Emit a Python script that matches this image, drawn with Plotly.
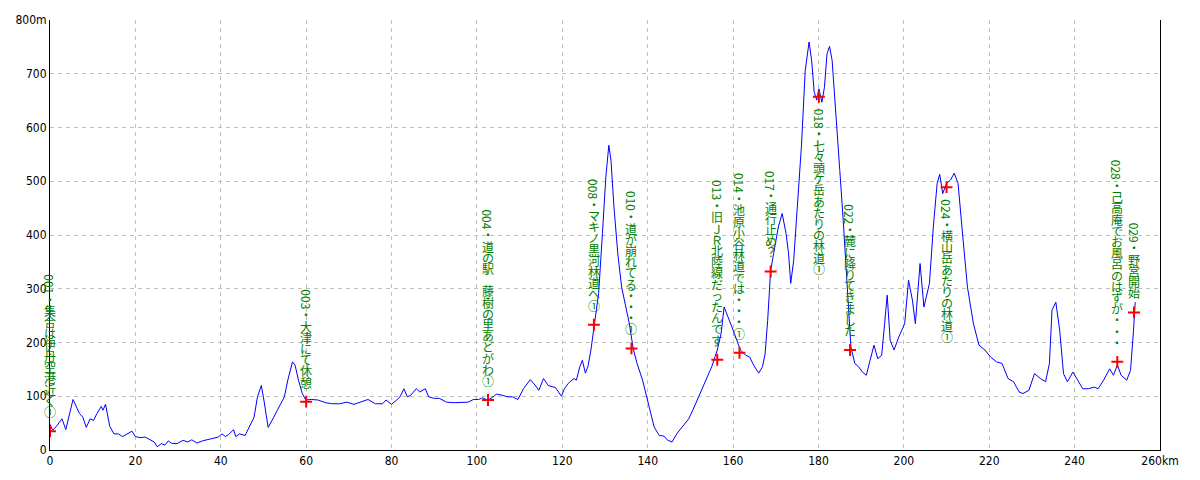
import plotly.graph_objects as go

# ---------------- data ----------------
dist_km = [0, 0.6, 1.4, 2.8, 3.7, 5.4, 6.9, 7.7, 8.5, 9.4, 10.2, 11.0, 12.0, 12.4, 13.0, 14.0, 15.0, 16.0, 17.0, 18.1,
           19.2, 20.0, 21.1, 22.3, 23.6, 24.4, 25.1, 26.1, 26.9, 27.7, 28.6, 29.8, 31.1, 32.3, 33.2, 34.4, 35.7, 36.9,
           38.2, 39.4, 40.3, 41.1, 41.9, 43.0, 43.5, 44.4, 45.7, 46.5, 47.8, 48.6, 49.5, 50.1, 51.1, 52.4, 53.6, 54.9,
           55.7, 56.8, 57.4, 58.2, 59.1, 59.9, 61.2, 62.8, 64.5, 66.2, 67.8, 69.5, 71.2, 72.8, 74.5, 76.2, 77.9, 78.7,
           80.0, 81.2, 82.0, 82.9, 83.7, 84.5, 85.8, 86.6, 87.9, 88.7, 90.0, 91.2, 92.9, 94.6, 96.2, 97.9, 99.2, 100.4,
           101.3, 102.5, 103.3, 104.6, 105.9, 107.1, 108.3, 109.6, 110.9, 112.5, 113.8, 114.5, 115.6, 116.7, 118.4,
           119.8, 120.5, 121.4, 122.7, 123.3, 124.1, 124.7, 125.4, 126.0, 126.7, 127.6, 128.5, 129.4, 130.2, 130.9,
           131.4, 132.1, 133.0, 133.9, 134.8, 135.7, 136.6, 137.5, 138.8, 139.7, 140.6, 141.5, 142.7, 143.8, 144.7,
           145.7, 146.9, 148.2, 149.6, 150.9, 152.3, 153.6, 155.0, 156.3, 157.2, 157.9, 159.0, 160.3, 161.7, 163.0,
           163.9, 164.8, 166.0, 166.9, 167.5, 168.1, 168.8, 169.7, 170.6, 171.5, 172.4, 173.0, 173.5, 174.2, 175.1,
           176.0, 176.9, 177.8, 178.4, 179.0, 179.6, 180.1, 180.8, 181.4, 182.0, 182.6, 183.2, 184.1, 185.0, 185.8,
           186.7, 187.6, 188.5, 189.4, 190.3, 191.2, 192.1, 193.0, 193.9, 194.8, 195.5, 196.1, 196.8, 197.7, 198.8,
           200.2, 201.1, 202.0, 202.7, 203.8, 204.7, 206.0, 206.9, 207.8, 208.4, 209.1, 210.0, 210.9, 211.8, 212.7,
           213.6, 214.9, 216.3, 217.6, 219.0, 220.3, 221.7, 223.0, 224.4, 225.7, 227.0, 227.9, 229.3, 230.6, 232.0,
           233.2, 234.1, 234.7, 235.6, 236.5, 237.4, 238.3, 239.6, 241.0, 241.9, 243.2, 244.6, 245.5, 246.8, 248.2,
           249.1, 250.0, 250.9, 252.2, 253.1, 253.8, 254.2]

elev_m = [48, 37, 43, 58, 38, 94, 68, 61, 42, 58, 55, 68, 81, 74, 85, 44, 30, 30, 25, 30,
          35, 25, 23, 24, 18, 15, 6, 12, 9, 17, 12, 12, 18, 15, 19, 13, 17, 19,
          21, 24, 30, 25, 29, 38, 25, 30, 27, 40, 61, 99, 120, 93, 42, 61, 80, 99,
          130, 164, 158, 130, 105, 93, 94, 93, 88, 86, 86, 89, 85, 89, 94, 86, 86, 93,
          85, 93, 99, 114, 99, 102, 114, 108, 114, 99, 96, 96, 89, 88, 89, 89, 94, 94,
          97, 93, 96, 104, 102, 99, 99, 94, 114, 131, 119, 111, 133, 120, 116,
          100, 114, 124, 133, 130, 155, 167, 143, 155, 186, 235, 291, 403, 508, 567,
          539, 452, 365, 303, 272, 235, 189, 161, 130, 99, 68, 43, 27, 26, 18,
          15, 31, 43, 58, 80, 105, 130, 155, 186, 217, 266, 244, 217, 186, 176,
          173, 158, 143, 155, 179, 241, 334, 378, 415, 440, 403, 365, 310, 353, 452,
          564, 706, 759, 725, 666, 651, 672, 647, 675, 737, 751, 725, 613, 520, 427,
          303, 192, 161, 155, 145, 139, 167, 195, 170, 176, 235, 288, 204, 186, 210,
          235, 316, 279, 235, 347, 266, 310, 415, 496, 513, 477, 496, 502, 515, 496,
          415, 303, 235, 195, 186, 173, 164, 161, 133, 127, 108, 105, 111, 142, 133,
          127, 161, 260, 275, 223, 142, 127, 145, 127, 114, 114, 117, 114, 130, 151,
          139, 158, 139, 130, 148, 223, 275]

wp_km = [0, 60.0, 102.6, 127.4, 136.2, 156.3, 161.5, 168.8, 180.1, 187.4, 210.0, 250.0, 253.9]
wp_elev = [35, 90, 93, 233, 189, 168, 181, 332, 657, 186, 489, 164, 256]
wp_num = ["001", "003", "004", "008", "010", "013", "014", "017", "018", "022", "024", "028", "029"]
wp_text = ["集合は伊丹空港近く①", "大津にて休憩", "道の駅　藤樹の里あどがわ①", "マキノ黒河林道へ①",
           "道が崩れてる・・・①", "旧ＪＲ北陸線だったんです", "池原小谷林道では・・・①", "通行止め？",
           "七々頭ケ岳あたりの林道①", "麓に降りてきました", "横山岳あたりの林道①",
           "己高庵でお風呂のはずが・・・", "野営開始"]

x_tick_vals = [0, 20, 40, 60, 80, 100, 120, 140, 160, 180, 200, 220, 240, 260]
x_tick_text = ["0", "20", "40", "60", "80", "100", "120", "140", "160", "180", "200", "220", "240", "260km"]
y_tick_vals = [0, 100, 200, 300, 400, 500, 600, 700, 800]
y_tick_text = ["0", "100", "200", "300", "400", "500", "600", "700", "800m"]

# ---------------- figure ----------------
TICK_FONT = dict(family="Liberation Sans Narrow, DejaVu Sans Condensed, Arial Narrow, sans-serif",
                 size=12, color="black")
LABEL_FONT = dict(family="Noto Sans CJK JP, sans-serif", size=12, color="#008000")

fig = go.Figure()
fig.add_trace(go.Scatter(x=dist_km, y=elev_m, mode="lines",
                         line=dict(color="#0000ff", width=1), hoverinfo="skip", showlegend=False))
fig.add_trace(go.Scatter(x=wp_km, y=wp_elev, mode="markers",
                         marker=dict(symbol="cross-thin", size=8.5, line=dict(color="#ff0000", width=2)),
                         hoverinfo="skip", showlegend=False))

# vertical (tategaki) labels: number part rotated, Japanese part stacked upright
FULL_ADV = 11.2
NUM_ADV = 19.5
annotations = []
for km, el, num, txt in zip(wp_km, wp_elev, wp_num, wp_text):
    glyphs = [(num, NUM_ADV, 90)] + [("・", FULL_ADV, 0)] + [(ch, FULL_ADV, 0) for ch in txt]
    total = sum(g[1] for g in glyphs)
    below = el > 400
    cum = 0.0
    for ch, adv, ang in glyphs:
        center = cum + adv / 2
        if below:
            ys = -(12 + center)
        else:
            ys = 14 + total - center
        annotations.append(dict(x=km, y=el, xref="x", yref="y", text=ch, showarrow=False,
                                textangle=ang, xanchor="center", yanchor="middle", yshift=ys,
                                font=LABEL_FONT))
        cum += adv

# the page body adds an 8px offset, so margins are shifted to keep the plot area at 50..1160 x 20..450
fig.update_layout(
    width=1200, height=480,
    margin=dict(l=42, r=48, t=12, b=38),
    paper_bgcolor="white", plot_bgcolor="white",
    annotations=annotations,
    showlegend=False,
)
fig.update_xaxes(range=[0, 260], tickvals=x_tick_vals, ticktext=x_tick_text, tickfont=TICK_FONT,
                 showgrid=True, gridcolor="#c0c0c0", griddash="4px,4px", gridwidth=1,
                 showline=True, linecolor="black", linewidth=1, zeroline=False, ticks="",
                 automargin=False, fixedrange=True)
fig.update_yaxes(range=[0, 800], tickvals=y_tick_vals, ticktext=y_tick_text, tickfont=TICK_FONT,
                 showgrid=True, gridcolor="#c0c0c0", griddash="4px,4px", gridwidth=1,
                 showline=True, linecolor="black", linewidth=1, mirror=True, zeroline=False, ticks="",
                 automargin=False, fixedrange=True)

fig.write_html("out.html")
